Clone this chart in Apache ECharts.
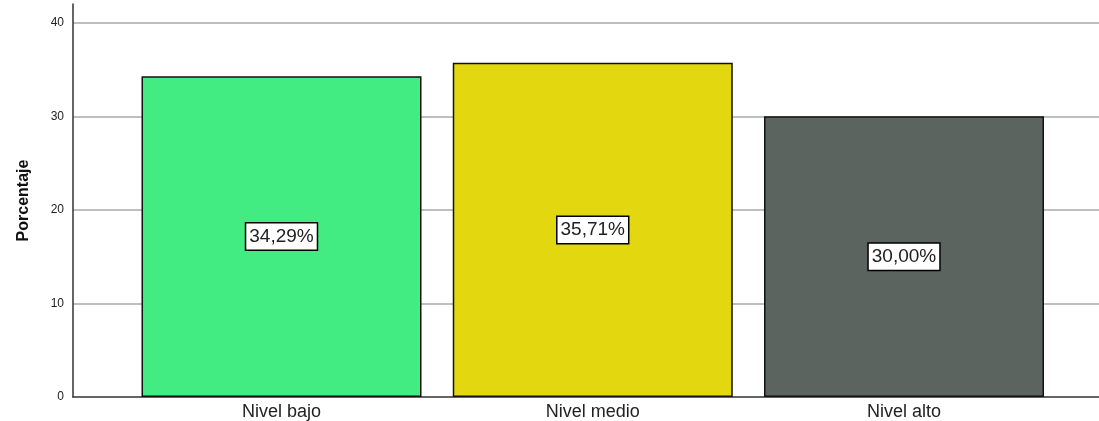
<!DOCTYPE html>
<html>
<head>
<meta charset="utf-8">
<script src="https://cdn.jsdelivr.net/npm/echarts@6/dist/echarts.min.js"></script>
<style>html,body{margin:0;padding:0;background:#fff}#c{width:1099px;height:421px}</style>
</head>
<body>
<div id="c"></div>
<script>
const categories = ["Nivel bajo", "Nivel medio", "Nivel alto"];
const percentages = [34.29, 35.71, 30.00];
const yTicks = [0, 10, 20, 30, 40];
const barColors = ["#43EB83", "#E3D80F", "#5B645E"];

const chart = echarts.init(document.getElementById('c'), null, {renderer: 'canvas'});
chart.setOption({
  animation: false,
  grid: {left: 73, right: 0, top: 4, bottom: 24, containLabel: false},
  xAxis: {
    type: 'value', min: -0.6699, max: 2.6265,
    splitLine: {show: false},
    axisTick: {show: false},
    axisLine: {show: true, onZero: false, lineStyle: {color: '#333', width: 1.5}},
    axisLabel: {
      customValues: [0, 1, 2],
      formatter: v => categories[Math.round(v)],
      fontFamily: 'Liberation Sans, Arial, sans-serif', fontSize: 18, color: '#222', margin: 6
    }
  },
  yAxis: {
    type: 'value', min: 0, max: 42, interval: 10,
    name: 'Porcentaje', nameLocation: 'middle', nameGap: 41, nameRotate: 90,
    nameTextStyle: {fontFamily: 'Liberation Sans, Arial, sans-serif', fontSize: 16, fontWeight: 'bold', color: '#111'},
    axisLine: {show: true, onZero: false, lineStyle: {color: '#333', width: 1.5}},
    axisTick: {show: false},
    axisLabel: {customValues: yTicks, fontFamily: 'Liberation Sans, Arial, sans-serif', fontSize: 12, color: '#222', margin: 9},
    splitLine: {show: true, showMaxLine: false, showMinLine: false, lineStyle: {color: '#aaaaaa', width: 1.5}}
  },
  series: [{
    type: 'bar',
    barWidth: 280,
    data: percentages.map((v, i) => ({value: [i, v], itemStyle: {color: barColors[i]}})),
    itemStyle: {borderColor: '#111', borderWidth: 1.5},
    label: {
      show: true, position: 'inside',
      formatter: p => p.value[1].toFixed(2).replace('.', ',') + '%',
      fontFamily: 'Liberation Sans, Arial, sans-serif', fontSize: 19, color: '#222',
      backgroundColor: '#fff', borderColor: '#000', borderWidth: 1.5, padding: [4, 3, 3, 3]
    }
  }]
});
</script>
</body>
</html>
